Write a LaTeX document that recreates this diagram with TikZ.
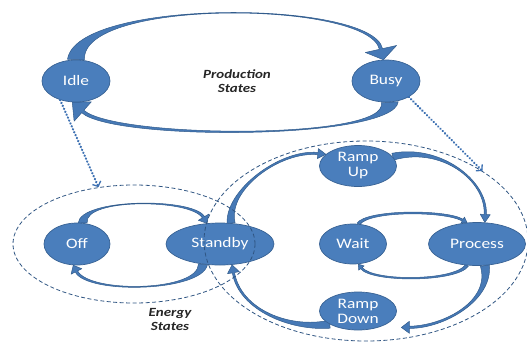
\documentclass[tikz,border=0pt]{standalone}
\usepackage{fontspec}
\setmainfont{Carlito}[FakeStretch=1.2]
\usetikzlibrary{shapes.geometric,calc,arrows.meta}

\definecolor{stateblue}{RGB}{74,126,188}
\definecolor{stateedge}{RGB}{56,98,148}
\definecolor{arrowblue}{RGB}{70,121,182}
\definecolor{arrowedge}{RGB}{50,92,140}
\definecolor{groupline}{RGB}{47,85,130}
\definecolor{linkblue}{RGB}{60,112,178}

\pgfdeclarelayer{back}
\pgfsetlayers{back,main}

\tikzset{
  state/.style={ellipse, fill=stateblue, draw=stateedge, line width=0.7pt,
    inner sep=0pt, text=white, font=\fontsize{14.5}{15}\selectfont, align=center},
  blockarrow/.style={fill=arrowblue, draw=arrowedge, line width=0.5pt, line join=round},
  group/.style={ellipse, draw=groupline, dash pattern=on 4pt off 2.5pt,
    line width=0.8pt, inner sep=0pt},
  link/.style={draw=linkblue, line width=2.4pt, line cap=round,
    dash pattern=on 0.2pt off 3pt,
    -{Straight Barb[length=4pt,width=9pt,line width=1.3pt,line cap=butt]}},
  caption/.style={font=\bfseries\itshape\fontsize{12.5}{14}\selectfont,
    text=black!85, align=center}
}

% Tapered curved block arrow:
% #1 start, #2 first control, #3 second control, #4 tip,
% #5 half width at start, #6 half width at the controls, #7 half width at head,
% #8 half width of the head, #9 head length
\newcommand\bendarrow[9]{%
  \coordinate (ba-s) at (#1);
  \coordinate (ba-c) at (#2);
  \coordinate (ba-d) at (#3);
  \coordinate (ba-t) at (#4);
  \coordinate (ba-b) at ($(ba-t)!#9!(ba-d)$);
  \filldraw[blockarrow]
    ($(ba-s)!#5!90:(ba-c)$) .. controls ($(ba-c)!#6!-90:(ba-s)$) and ($(ba-d)!#6!90:(ba-b)$) .. ($(ba-b)!#7!-90:(ba-d)$)
    -- ($(ba-b)!#8!-90:(ba-d)$) -- (ba-t) -- ($(ba-b)!#8!90:(ba-d)$) -- ($(ba-b)!#7!90:(ba-d)$)
    .. controls ($(ba-d)!#6!-90:(ba-b)$) and ($(ba-c)!#6!90:(ba-s)$) .. ($(ba-s)!#5!-90:(ba-c)$) -- cycle;}

\begin{document}
\begin{tikzpicture}[x=1pt,y=-1pt]
\useasboundingbox (0,0) rectangle (527,343);

% production states
\node[state, minimum width=68pt, minimum height=42pt] (idle) at (76,81) {Idle};
\node[state, minimum width=68pt, minimum height=42pt] (busy) at (386,81) {Busy};

% energy states
\node[state, minimum width=66pt, minimum height=42pt] (off) at (77,244) {Off};
\node[state, minimum width=108pt, minimum height=42pt] (standby) at (220,244) {Standby};

% operating cycle
\node[state, minimum width=77pt, minimum height=41pt] (rampup) at (358,166) {Ramp\\Up};
\node[state, minimum width=67pt, minimum height=40pt] (wait) at (353,244) {Wait};
\node[state, minimum width=97pt, minimum height=43pt] (process) at (477,244) {Process};
\node[state, minimum width=77pt, minimum height=38pt] (rampdown) at (358,311) {Ramp\\Down};

\begin{pgfonlayer}{back}
  \bendarrow{idle.90}{78,-2}{370,0}{busy.97}{8.5pt}{2pt}{1.6pt}{16pt}{11pt}
  \bendarrow{busy.-80}{392,140}{115,140}{idle.-100}{8.5pt}{2pt}{1.6pt}{13pt}{14pt}

  \bendarrow{off.75}{82,198}{192,198}{standby.122}{4.5pt}{1.5pt}{1.3pt}{6pt}{7pt}
  \bendarrow{standby.-130}{200,292}{88,294}{off.-100}{4.5pt}{1.5pt}{1.3pt}{6pt}{7pt}

  \bendarrow{standby.62}{226,190}{280,150}{rampup.160}{4pt}{1.3pt}{1.1pt}{5pt}{8pt}
  \bendarrow{rampup.15}{440,145}{487,180}{process.70}{3.5pt}{1.3pt}{1.1pt}{5pt}{8pt}
  \bendarrow{process.-70}{492,300}{445,327}{$(rampdown.-20)+(12,5)$}{4.5pt}{1.5pt}{1.1pt}{6pt}{8pt}
  \bendarrow{rampdown.205}{290,330}{240,310}{standby.-60}{4pt}{1.3pt}{1.1pt}{6pt}{8pt}

  \bendarrow{wait.75}{368,210}{445,210}{process.115}{1.6pt}{1.2pt}{1pt}{3.5pt}{5pt}
  \bendarrow{process.-115}{455,282}{372,282}{wait.-75}{1.6pt}{1.2pt}{1pt}{3.5pt}{5pt}
\end{pgfonlayer}

% state groups
\node[group, minimum width=242pt, minimum height=118pt] (energy) at (134,244) {};
\node[group, minimum width=324pt, minimum height=200pt] (rightgroup) at (366,241) {};

% links from production states to their groups
\draw[link] (idle.-130) -- (energy.122);
\draw[link] (busy.-35) -- (rightgroup.31);

% captions
\node[caption] (prodcap) at (237,81) {Production\\States};
\node[caption] (energycap) at (170,319) {Energy\\States};
\end{tikzpicture}
\end{document}
